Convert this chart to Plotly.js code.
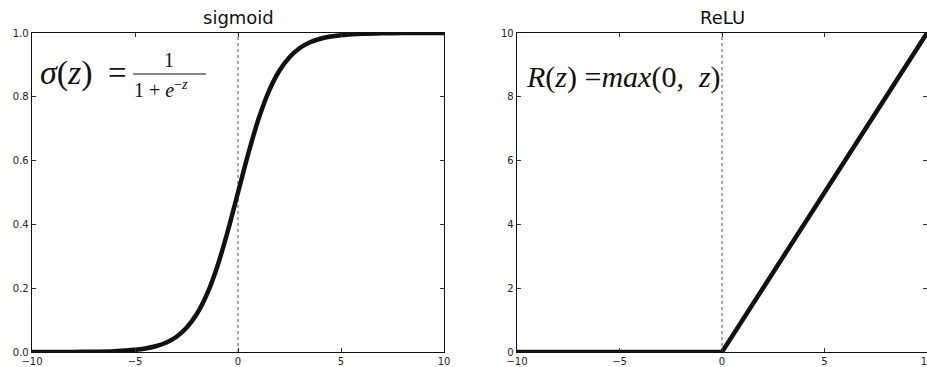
<!DOCTYPE html>
<html>
<head>
<meta charset="utf-8">
<script src="https://cdn.plot.ly/plotly-3.0.1.min.js"></script>
<style>html,body{margin:0;padding:0;background:#fff;}#chart{width:927px;height:367px;}</style>
</head>
<body>
<div id="chart"></div>
<script>
// Values
const sigmoidX = [-10, -9, -8, -7, -6, -5, -4.5, -4, -3.5, -3, -2.5, -2, -1.5, -1, -0.5, 0, 0.5, 1, 1.5, 2, 2.5, 3, 3.5, 4, 4.5, 5, 6, 7, 8, 9, 10];
const sigmoidY = [0.0000, 0.0001, 0.0003, 0.0009, 0.0025, 0.0067, 0.011, 0.018, 0.029, 0.047, 0.076, 0.119, 0.182, 0.269, 0.378, 0.500, 0.622, 0.731, 0.818, 0.881, 0.924, 0.953, 0.971, 0.982, 0.989, 0.993, 0.998, 0.999, 1.000, 1.000, 1.000];
const reluX = [-10, 0, 10];
const reluY = [0, 0, 10];
const xTicks = [-10, -5, 0, 5, 10];
const xTickText = ['\u221210', '\u22125', '0', '5', '10'];
const sigYTicks = [0, 0.2, 0.4, 0.6, 0.8, 1.0];
const sigYTickText = ['0.0', '0.2', '0.4', '0.6', '0.8', '1.0'];
const reluYTicks = [0, 2, 4, 6, 8, 10];
const reluYTickText = ['0', '2', '4', '6', '8', '10'];
const titles = ['sigmoid', 'ReLU'];

const lineStyle = {color: '#111', width: 4.5};
const traces = [
  {x: sigmoidX, y: sigmoidY, type: 'scatter', mode: 'lines', line: Object.assign({shape: 'spline', smoothing: 1}, lineStyle), xaxis: 'x', yaxis: 'y', hoverinfo: 'skip'},
  {x: reluX, y: reluY, type: 'scatter', mode: 'lines', line: lineStyle, xaxis: 'x2', yaxis: 'y2', hoverinfo: 'skip'}
];

const tickFont = {family: 'DejaVu Sans', size: 10, color: '#222'};
function axis(extra) {
  return Object.assign({
    showline: true, linecolor: '#111', linewidth: 1.3, mirror: 'ticks',
    ticks: 'inside', ticklen: 4, tickcolor: '#333', tickwidth: 1,
    showgrid: false, zeroline: false, tickfont: tickFont, fixedrange: true,
    ticklabeloverflow: 'allow'
  }, extra);
}
const yDom = [15/367, 334/367];
const serif = 'Liberation Serif, DejaVu Serif, serif';
const layout = {
  width: 927, height: 367,
  margin: {l: 0, r: 0, t: 0, b: 0},
  paper_bgcolor: '#fff', plot_bgcolor: '#fff',
  showlegend: false,
  xaxis: axis({domain: [32/927, 444/927], range: [-10, 10], tickvals: xTicks, ticktext: xTickText, anchor: 'y'}),
  yaxis: axis({domain: yDom, range: [0, 1], tickvals: sigYTicks, ticktext: sigYTickText, anchor: 'x'}),
  xaxis2: axis({domain: [517/927, 1], range: [-10, 10], tickvals: xTicks, ticktext: xTickText, anchor: 'y2'}),
  yaxis2: axis({domain: yDom, range: [0, 10], tickvals: reluYTicks, ticktext: reluYTickText, anchor: 'x2'}),
  shapes: [
    {type: 'line', xref: 'x', yref: 'y domain', x0: 0, x1: 0, y0: 0, y1: 1, line: {color: '#555', width: 1, dash: 'dot'}, layer: 'below'},
    {type: 'line', xref: 'x2', yref: 'y2 domain', x0: 0, x1: 0, y0: 0, y1: 1, line: {color: '#555', width: 1, dash: 'dot'}, layer: 'below'},
    // fraction bar
    {type: 'line', xref: 'paper', yref: 'paper', x0: 133/927, x1: 206/927, y0: 1 - 74/367, y1: 1 - 74/367, line: {color: '#111', width: 1.2}}
  ],
  annotations: [
    {text: titles[0], xref: 'paper', yref: 'paper', x: 238/927, y: 1 - 30/367, xanchor: 'center', yanchor: 'bottom', showarrow: false, font: {family: 'DejaVu Sans', size: 18, color: '#111'}},
    {text: titles[1], xref: 'paper', yref: 'paper', x: 722/927, y: 1 - 30/367, xanchor: 'center', yanchor: 'bottom', showarrow: false, font: {family: 'DejaVu Sans', size: 18, color: '#111'}},
    {text: '<i>σ</i>(<i>z</i>)', xref: 'paper', yref: 'paper', x: 38/927, y: 1 - 73/367, xanchor: 'left', yanchor: 'middle', showarrow: false, font: {family: serif, size: 34, color: '#111'}},
    {text: '=', xref: 'paper', yref: 'paper', x: 117/927, y: 1 - 73/367, xanchor: 'center', yanchor: 'middle', showarrow: false, font: {family: serif, size: 33, color: '#111'}},
    {text: '1', xref: 'paper', yref: 'paper', x: 169/927, y: 1 - 73/367, xanchor: 'center', yanchor: 'bottom', showarrow: false, font: {family: serif, size: 20, color: '#111'}},
    {text: '1 + <i>e</i><sup>−<i>z</i></sup>', xref: 'paper', yref: 'paper', x: 132/927, y: 1 - 75/367, xanchor: 'left', yanchor: 'top', showarrow: false, font: {family: serif, size: 20, color: '#111'}},
    {text: '<i>R</i>(<i>z</i>) =<i>max</i>(0,  <i>z</i>)', xref: 'paper', yref: 'paper', x: 524/927, y: 1 - 77/367, xanchor: 'left', yanchor: 'middle', showarrow: false, font: {family: serif, size: 30, color: '#111'}}
  ]
};
Plotly.newPlot('chart', traces, layout, {staticPlot: true, displayModeBar: false});
</script>
</body>
</html>
